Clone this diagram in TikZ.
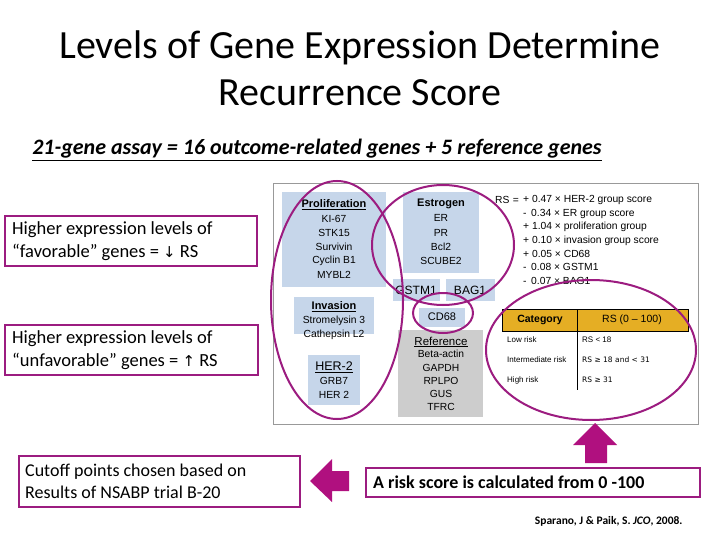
\documentclass[tikz,border=0pt]{standalone}
\usepackage{fontspec}
\setmainfont{Carlito}
\newfontfamily\arial{Liberation Sans}
\newfontfamily\dejavu{DejaVu Sans}
\definecolor{plum}{HTML}{9C1C80}
\definecolor{arrmag}{HTML}{B0107F}
\definecolor{gbox}{HTML}{C6D6EA}
\definecolor{rbox}{HTML}{CDCDCD}
\definecolor{gold}{HTML}{E5AE24}
\begin{document}
\begin{tikzpicture}[x=1pt,y=-1pt,
  txtbox/.style={draw=plum,line width=1.2pt,fill=white},
  bigtxt/.style={font=\fontsize{18.5}{23}\selectfont,anchor=west,align=left,inner sep=0pt},
  gene/.style={font=\arial\fontsize{10.3}{12}\selectfont,inner sep=0pt},
  ghead/.style={font=\arial\bfseries\fontsize{9.5}{11}\selectfont,inner sep=0pt},
  ring/.style={draw=plum,line width=2pt},
  formula/.style={font=\arial\fontsize{10.3}{12}\selectfont,anchor=west,inner sep=0pt},
  tab/.style={font=\arial\fontsize{8}{9}\selectfont,anchor=west,inner sep=0pt},
  fatarrow/.style={fill=arrmag,draw=none}]
\useasboundingbox (0,0) rectangle (720,540);
\fill[white] (0,0) rectangle (720,540);
% title
\node (title) at (360,68) [font=\fontsize{40}{47}\selectfont,align=center] {Levels of Gene Expression Determine\\Recurrence Score};
\node (sub) at (317,150) [font=\bfseries\itshape\fontsize{22}{24}\selectfont] {\underline{21-gene assay = 16 outcome-related genes + 5 reference genes}};
% frame
\draw[gray!80,line width=0.8pt] (273,183) rectangle (698,424);
% gene boxes
\fill[gbox] (282,192) rectangle (386,287);
\fill[gbox] (403,192) rectangle (479,273);
\fill[gbox] (393,279) rectangle (440,301);
\fill[gbox] (446,279) rectangle (495,301);
\fill[gbox] (419,308) rectangle (465,327);
\fill[gbox] (294,297) rectangle (374,334);
\fill[gbox] (308,355) rectangle (360,405);
\fill[rbox] (398,330) rectangle (483,417);
\node[ghead,font=\arial\bfseries\fontsize{11}{12}\selectfont] (prol) at (334,205) {\underline{Proliferation}};
\node[gene] (g1) at (334,219) {KI-67};
\node[gene] (g2) at (334,233) {STK15};
\node[gene] (g3) at (334,247) {Survivin};
\node[gene] (g4) at (334,261) {Cyclin B1};
\node[gene] (g5) at (334,275) {MYBL2};
\node[ghead,font=\arial\bfseries\fontsize{11}{12}\selectfont] (estr) at (441,204) {Estrogen};
\node[gene] (e1) at (441,218) {ER};
\node[gene] (e2) at (441,233) {PR};
\node[gene] (e3) at (441,247) {Bcl2};
\node[gene] (e4) at (441,261) {SCUBE2};
\node[gene,font=\arial\fontsize{12}{13}\selectfont] (gst) at (416,290) {GSTM1};
\node[gene,font=\arial\fontsize{12}{13}\selectfont] (bag) at (470,290) {BAG1};
\node[gene,font=\arial\fontsize{11}{12}\selectfont] (cd) at (442,317) {CD68};
\node[ghead,font=\arial\bfseries\fontsize{11}{12}\selectfont] (inv) at (334,307) {\underline{Invasion}};
\node[gene] (i1) at (334,321) {Stromelysin 3};
\node[gene] (i2) at (334,335) {Cathepsin L2};
\node[ghead,font=\arial\fontsize{12.5}{14}\selectfont] (her) at (334,367) {\underline{HER-2}};
\node[gene] (h1) at (334,381) {GRB7};
\node[gene] (h2) at (334,395) {HER 2};
\node[ghead,font=\arial\fontsize{11.5}{13}\selectfont] (ref) at (441,342) {\underline{Reference}};
\node[gene] (r1) at (441,354) {Beta-actin};
\node[gene] (r2) at (441,368) {GAPDH};
\node[gene] (r3) at (441,381) {RPLPO};
\node[gene] (r4) at (441,394) {GUS};
\node[gene] (r5) at (441,407) {TFRC};
% formula
\node[formula] (rs) at (495,200) {RS\,\,=};
\node[formula] (f1) at (523,200) {+ 0.47 × HER-2 group score};
\node[formula] (f2) at (523,214) {-\, 0.34 × ER group score};
\node[formula] (f3) at (523,227) {+ 1.04 × proliferation group};
\node[formula] (f4) at (523,241) {+ 0.10 × invasion group score};
\node[formula] (f5) at (523,254) {+ 0.05 × CD68};
\node[formula] (f6) at (523,267) {-\, 0.08 × GSTM1};
\node[formula] (f7) at (523,281) {-\, 0.07 × BAG1};
% table
\fill[gold] (502,309) rectangle (688,331);
\draw[black,line width=0.6pt] (502,309) rectangle (688,331);
\draw[black,line width=0.6pt] (577,309) -- (577,390);
\node[font=\arial\bfseries\fontsize{10.5}{12}\selectfont] (cat) at (540,320) {Category};
\node[font=\arial\fontsize{10.5}{12}\selectfont] (rsh) at (632,320) {RS (0 – 100)};
\node[tab] (t1) at (507,340) {Low risk};
\node[tab] (t2) at (507,360) {Intermediate risk};
\node[tab] (t3) at (507,380) {High risk};
\node[tab] (u1) at (582,340) {RS < 18};
\node[tab,font=\dejavu\fontsize{7.5}{9}\selectfont] (u2) at (582,360) {RS ≥ 18 and < 31};
\node[tab,font=\dejavu\fontsize{7.5}{9}\selectfont] (u3) at (582,380) {RS ≥ 31};
% ellipses
\draw[ring] (337,300) ellipse [x radius=66,y radius=119];
\draw[ring] (443,245) ellipse [x radius=71,y radius=60];
\draw[ring] (443,313) ellipse [x radius=30,y radius=20];
\draw[ring] (591,350) ellipse [x radius=105,y radius=70];
% text boxes
\draw[txtbox] (5,216) rectangle (257,266);
\node[bigtxt] (fav) at (12,241) {Higher expression levels of\\“favorable” genes = {\dejavu\fontsize{15}{18}\selectfont↓} RS};
\draw[txtbox] (5,325) rectangle (258,375);
\node[bigtxt] (unfav) at (12,350) {Higher expression levels of\\“unfavorable” genes = {\dejavu\fontsize{15}{18}\selectfont↑} RS};
\draw[txtbox] (19,456) rectangle (300,507);
\node[bigtxt,font=\fontsize{18}{22}\selectfont] (cut) at (25,481) {Cutoff points chosen based on\\Results of NSABP trial B-20};
\draw[txtbox] (366,468) rectangle (700,497);
\node[bigtxt,font=\bfseries\fontsize{18}{21}\selectfont] (risk) at (373,482) {A risk score is calculated from 0 -100};
% arrows
\fill[fatarrow] (310,481) -- (332,459) -- (332,471) -- (349,471) -- (349,491) -- (332,491) -- (332,502) -- cycle;
\fill[fatarrow] (595,423) -- (617,445) -- (607,445) -- (607,463) -- (585,463) -- (585,445) -- (573,445) -- cycle;
% citation
\node[font=\fontsize{11.5}{13}\selectfont\bfseries,anchor=east] (cite) at (686,521) {Sparano, J \& Paik, S. \textit{JCO}, 2008.};
\end{tikzpicture}
\end{document}
